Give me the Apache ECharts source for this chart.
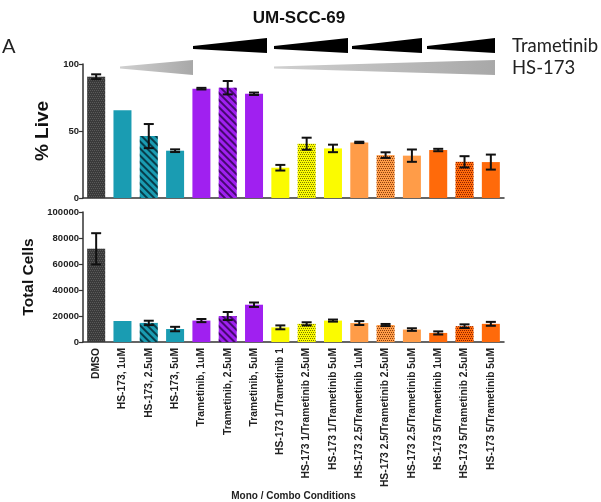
<!DOCTYPE html>
<html>
<head>
<meta charset="utf-8">
<script src="https://cdn.jsdelivr.net/npm/echarts@6/dist/echarts.min.js"></script>
<style>html,body{margin:0;padding:0;background:#fff}#c{width:601px;height:502px}</style>
</head>
<body>
<div id="c"></div>
<script>
const categories = ['DMSO','HS-173, 1uM','HS-173, 2.5uM','HS-173, 5uM','Trametinib, 1uM','Trametinib, 2.5uM','Trametinib, 5uM','HS-173 1/Trametinib 1','HS-173 1/Trametinib 2.5uM','HS-173 1/Trametinib 5uM','HS-173 2.5/Trametinib 1uM','HS-173 2.5/Trametinib 2.5uM','HS-173 2.5/Trametinib 5uM','HS-173 5/Trametinib 1uM','HS-173 5/Trametinib 2.5uM','HS-173 5/Trametinib 5uM'];
const liveMean = [90.5, 65.4, 46.2, 35.3, 81.6, 82.3, 77.8, 22.6, 40.5, 37.0, 41.5, 32.0, 31.6, 35.8, 27.0, 26.8];
const liveErr  = [1.8, 0, 9.0, 1.0, 0.6, 5.0, 0.9, 2.1, 4.5, 2.8, 0.5, 2.1, 4.6, 0.9, 4.2, 5.6];
const cellsMean = [71700, 16200, 14700, 10000, 16500, 20000, 28700, 11300, 14000, 16500, 14600, 13100, 9600, 7000, 12200, 14000];
const cellsErr  = [12000, 0, 1700, 1700, 1200, 3100, 1700, 1500, 1200, 800, 1500, 800, 1000, 1200, 1400, 1500];
const liveTicks = [0, 50, 100];
const cellTicks = [0, 20000, 40000, 60000, 80000, 100000];

// styles (per category)
const barColors = ['#3a3a3a','#1a9cb2','#1a9cb2','#1a9cb2','#a020f0','#a020f0','#a020f0','#fbfb00','#fbfb00','#fbfb00','#ff9c48','#ff9c48','#ff9c48','#ff6a0a','#ff6a0a','#ff6a0a'];
const decalKind = ['dots','','stripes','','','stripes','','','dots','','','dots','','','dots',''];
const decalColor = ['rgba(110,110,110,0.6)','','rgba(0,30,40,0.75)','','','rgba(40,0,70,0.75)','','','rgba(90,90,0,0.8)','','','rgba(110,40,0,0.8)','','','rgba(110,15,0,0.8)',''];

function makeDecal(kind, color) {
  if (kind === 'dots') return {symbol:'rect', symbolSize:1, dashArrayX:[[1,1],[0,1,1,0]], dashArrayY:[1,1], color: color, rotation:0};
  if (kind === 'stripes') return {symbol:'rect', symbolSize:1, dashArrayX:[1,0], dashArrayY:[2,3], color: color, rotation: Math.PI/4};
  return {symbol:'none', color:'rgba(0,0,0,0)'};
}
function barData(vals) {
  return vals.map((v,i) => ({value:v, itemStyle:{color:barColors[i], decal: makeDecal(decalKind[i], decalColor[i])}}));
}
function errData(m, e) { return m.map((v,i) => [i, v, e[i]]); }
function renderErr(params, api) {
  const i = api.value(0), m = api.value(1), e = api.value(2);
  if (!e) return null;
  const t = api.coord([i, m + e]), b = api.coord([i, m - e]);
  const hw = 5, st = {stroke:'#111', lineWidth:2};
  return {type:'group', children:[
    {type:'line', shape:{x1:t[0], y1:t[1], x2:b[0], y2:b[1]}, style:st},
    {type:'line', shape:{x1:t[0]-hw, y1:t[1], x2:t[0]+hw, y2:t[1]}, style:st},
    {type:'line', shape:{x1:b[0]-hw, y1:b[1], x2:b[0]+hw, y2:b[1]}, style:st}
  ]};
}

const FONT = '"Liberation Sans", Arial, sans-serif';
const SOFT = 'Lato, "Open Sans", sans-serif';
const axisLine = {lineStyle:{color:'#333', width:1.5}};
const tickStyle = {length:4, lineStyle:{color:'#333', width:1.2}};
const plain = v => String(v);

const chart = echarts.init(document.getElementById('c'), null, {renderer:'canvas'});
chart.setOption({
  animation:false,
  backgroundColor:'#fff',
  title:{text:'UM-SCC-69', left:294, top:5, textAlign:'center', textStyle:{fontFamily:FONT, fontWeight:'bold', fontSize:17, color:'#111'}},
  grid:[
    {left:83, top:64, width:421, height:134},
    {left:83, top:212, width:421, height:132}
  ],
  xAxis:[
    {type:'category', gridIndex:0, data:categories, axisLine:axisLine, axisTick:Object.assign({alignWithLabel:true}, tickStyle), axisLabel:{show:false}},
    {type:'category', gridIndex:1, data:categories, axisLine:axisLine, axisTick:Object.assign({alignWithLabel:true}, tickStyle),
     axisLabel:{rotate:90, interval:0, margin:6, fontFamily:FONT, fontWeight:'bold', fontSize:10.3, color:'#222'},
     name:'Mono / Combo Conditions', nameLocation:'middle', nameGap:143, nameTextStyle:{fontFamily:FONT, fontWeight:'bold', fontSize:10, color:'#222'}}
  ],
  yAxis:[
    {type:'value', gridIndex:0, min:liveTicks[0], max:liveTicks[liveTicks.length-1], interval:liveTicks[1]-liveTicks[0], splitLine:{show:false},
     axisLine:Object.assign({show:true}, axisLine), axisTick:Object.assign({show:true}, tickStyle),
     axisLabel:{margin:4, formatter:plain, fontFamily:FONT, fontWeight:'bold', fontSize:9.5, color:'#222'},
     name:'% Live', nameLocation:'middle', nameGap:31, nameTextStyle:{fontFamily:FONT, fontWeight:'bold', fontSize:19, color:'#111'}},
    {type:'value', gridIndex:1, min:cellTicks[0], max:cellTicks[cellTicks.length-1], interval:cellTicks[1]-cellTicks[0], splitLine:{show:false},
     axisLine:Object.assign({show:true}, axisLine), axisTick:Object.assign({show:true}, tickStyle),
     axisLabel:{margin:4, formatter:plain, fontFamily:FONT, fontWeight:'bold', fontSize:9.5, color:'#222'},
     name:'Total Cells', nameLocation:'middle', nameGap:44, nameTextStyle:{fontFamily:FONT, fontWeight:'bold', fontSize:15.5, color:'#111'}}
  ],
  series:[
    {type:'bar', xAxisIndex:0, yAxisIndex:0, barWidth:18, data:barData(liveMean)},
    {type:'custom', xAxisIndex:0, yAxisIndex:0, renderItem:renderErr, data:errData(liveMean, liveErr), z:5},
    {type:'bar', xAxisIndex:1, yAxisIndex:1, barWidth:18, data:barData(cellsMean)},
    {type:'custom', xAxisIndex:1, yAxisIndex:1, renderItem:renderErr, data:errData(cellsMean, cellsErr), z:5}
  ],
  graphic:[
    {type:'text', left:2, top:37, style:{text:'A', font:'20px ' + SOFT, fill:'#222'}},
    {type:'text', left:512, top:37, style:{text:'Trametinib', font:'18.5px ' + SOFT, fill:'#222'}},
    {type:'text', left:512, top:59, style:{text:'HS-173', font:'18.5px ' + SOFT, fill:'#222'}},
    {type:'polygon', shape:{points:[[193,46],[267,38],[267,53],[193,49]]}, style:{fill:'#000'}},
    {type:'polygon', shape:{points:[[274,46],[348,38],[348,53],[274,49]]}, style:{fill:'#000'}},
    {type:'polygon', shape:{points:[[352,46],[422,38],[422,53],[352,49]]}, style:{fill:'#000'}},
    {type:'polygon', shape:{points:[[427,46],[495,38],[495,53],[427,49]]}, style:{fill:'#000'}},
    {type:'polygon', shape:{points:[[120,66.5],[193,60],[193,75],[120,68.5]]}, style:{fill:new echarts.graphic.LinearGradient(0,0,1,0,[{offset:0,color:'#d0d0d0'},{offset:1,color:'#a8a8a8'}])}},
    {type:'polygon', shape:{points:[[274,66.5],[495,60],[495,75],[274,68.5]]}, style:{fill:new echarts.graphic.LinearGradient(0,0,1,0,[{offset:0,color:'#d0d0d0'},{offset:1,color:'#a8a8a8'}])}}
  ]
});
</script>
</body>
</html>
